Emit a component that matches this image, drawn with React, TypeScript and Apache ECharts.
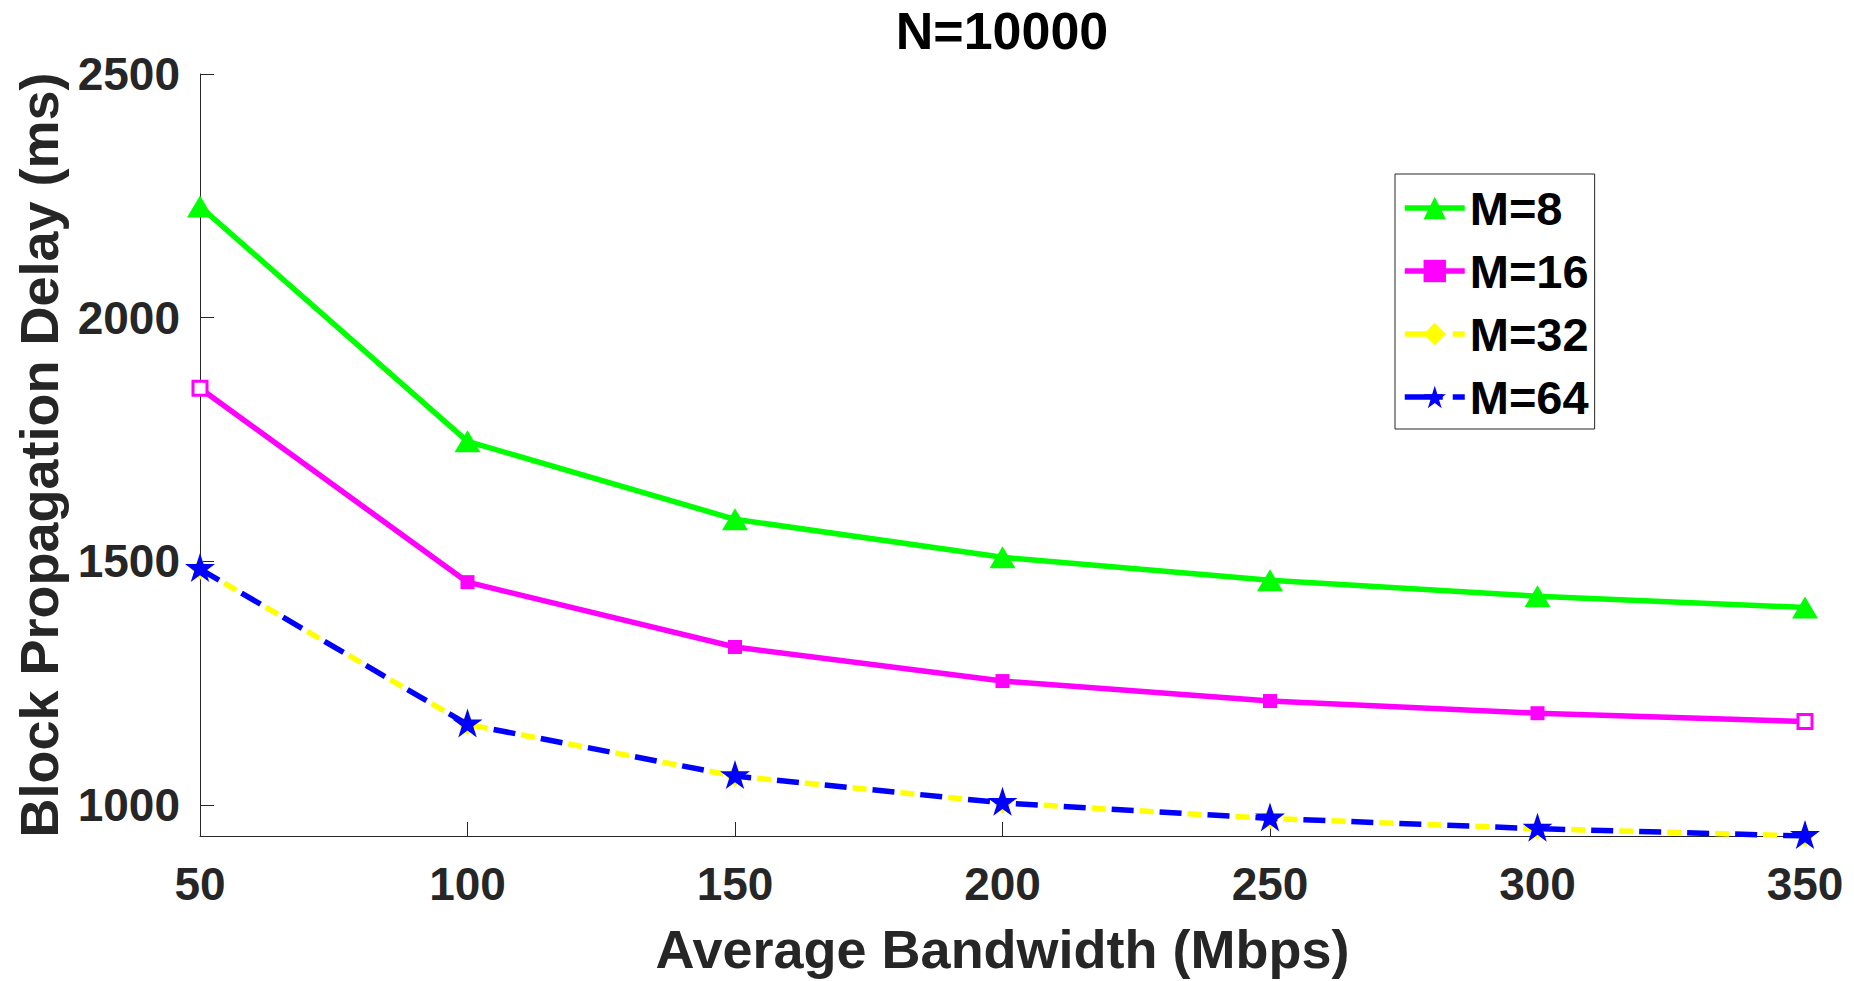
import React, { useEffect, useRef } from "react";
import * as echarts from "echarts";

const bandwidth = [50, 100, 150, 200, 250, 300, 350];
const m8 = [2228, 1746, 1586, 1508, 1461, 1428, 1405];
const m16 = [1855, 1457, 1324, 1254, 1213, 1188, 1171];
const m32 = [1484, 1165, 1059, 1004, 972, 951, 936];
const m64 = [1484, 1165, 1059, 1004, 972, 951, 936];
const yTicks = [1000, 1500, 2000, 2500];
const hollowM16 = [0, 6];

const FONT = "'Liberation Sans', Arial, Helvetica, sans-serif";
const AXIS = "#262626";
const LW = 5.5;
const STAR =
  "path://M50,0 L61.23,34.55 L97.55,34.55 L68.16,55.9 L79.39,90.45 L50,69.1 L20.61,90.45 L31.84,55.9 L2.45,34.55 L38.77,34.55 Z";

const pairs = (ys: number[]) => bandwidth.map((x, i) => [x, ys[i]]);

export default function App() {
  const ref = useRef<HTMLDivElement>(null);
  useEffect(() => {
    if (!ref.current) return;
    const chart = echarts.init(ref.current, undefined, { renderer: "svg" });
    const m16Data = bandwidth.map((x, i) =>
      hollowM16.includes(i)
        ? { value: [x, m16[i]], itemStyle: { color: "#ffffff", borderColor: "#ff00ff", borderWidth: 3 } }
        : { value: [x, m16[i]] }
    );
    chart.setOption({
      animation: false,
      backgroundColor: "#ffffff",
      textStyle: { fontFamily: FONT },
      title: {
        text: "N=10000",
        left: 997,
        top: 0,
        textAlign: "center",
        textStyle: { fontFamily: FONT, fontSize: 52, fontWeight: "bold", color: "#000", lineHeight: 52 },
      },
      grid: { left: 200, right: 49, top: 74, bottom: 145, containLabel: false },
      legend: {
        orient: "vertical",
        left: 1395,
        top: 174,
        padding: [9, 6, 7, 7],
        itemGap: 13,
        itemWidth: 60,
        itemHeight: 28,
        backgroundColor: "#ffffff",
        borderColor: AXIS,
        borderWidth: 1,
        lineStyle: { width: LW },
        textStyle: { fontFamily: FONT, fontSize: 47, fontWeight: "bold", color: "#000", lineHeight: 50 },
        data: [
          { name: "M=8" },
          { name: "M=16" },
          { name: "M=32", lineStyle: { type: [38, 10], dashOffset: 0 } },
          { name: "M=64", lineStyle: { type: [38, 10], dashOffset: 0 } },
        ],
      },
      xAxis: {
        type: "value",
        min: 50,
        max: 350,
        interval: 50,
        name: "Average Bandwidth (Mbps)",
        nameLocation: "middle",
        nameGap: 86,
        nameTextStyle: { fontFamily: FONT, fontSize: 54, fontWeight: "bold", color: AXIS },
        axisLine: { show: true, onZero: false, lineStyle: { color: AXIS, width: 1 } },
        axisTick: { show: true, inside: true, length: 14, lineStyle: { color: AXIS, width: 1 } },
        axisLabel: {
          margin: 25,
          fontFamily: FONT,
          fontSize: 46,
          fontWeight: "bold",
          color: AXIS,
          formatter: (v: number) => String(v),
        },
        splitLine: { show: false },
      },
      yAxis: {
        type: "value",
        min: 936,
        max: 2500,
        name: "Block Propagation Delay (ms)",
        nameLocation: "middle",
        nameGap: 134,
        nameTextStyle: { fontFamily: FONT, fontSize: 54, fontWeight: "bold", color: AXIS },
        axisLine: { show: true, onZero: false, lineStyle: { color: AXIS, width: 1 } },
        axisTick: { show: true, inside: true, length: 14, customValues: yTicks, lineStyle: { color: AXIS, width: 1 } },
        axisLabel: {
          margin: 20,
          customValues: yTicks,
          fontFamily: FONT,
          fontSize: 46,
          fontWeight: "bold",
          color: AXIS,
          formatter: (v: number) => String(v),
        },
        splitLine: { show: false },
      },
      series: [
        {
          name: "M=8",
          type: "line",
          data: pairs(m8),
          symbol: "triangle",
          symbolSize: [26, 22],
          itemStyle: { color: "#00ff00" },
          lineStyle: { color: "#00ff00", width: LW },
          z: 2,
        },
        {
          name: "M=16",
          type: "line",
          data: m16Data,
          symbol: "rect",
          symbolSize: 14,
          itemStyle: { color: "#ff00ff" },
          lineStyle: { color: "#ff00ff", width: LW },
          z: 2,
        },
        {
          name: "M=32",
          type: "line",
          data: pairs(m32),
          symbol: "diamond",
          symbolSize: [18, 22],
          itemStyle: { color: "#ffff00" },
          lineStyle: { color: "#ffff00", width: LW, type: [14, 34], dashOffset: 20 },
          z: 3,
        },
        {
          name: "M=64",
          type: "line",
          data: pairs(m64),
          symbol: STAR,
          symbolSize: [30, 29],
          symbolOffset: [0, -1.5],
          itemStyle: { color: "#0000ff" },
          lineStyle: { color: "#0000ff", width: LW, type: [22, 26] },
          z: 4,
        },
      ],
    });
    return () => chart.dispose();
  }, []);
  return (
    <div
      ref={ref}
      style={{ position: "absolute", left: 0, top: 0, width: 1854, height: 981, background: "#fff" }}
    />
  );
}
